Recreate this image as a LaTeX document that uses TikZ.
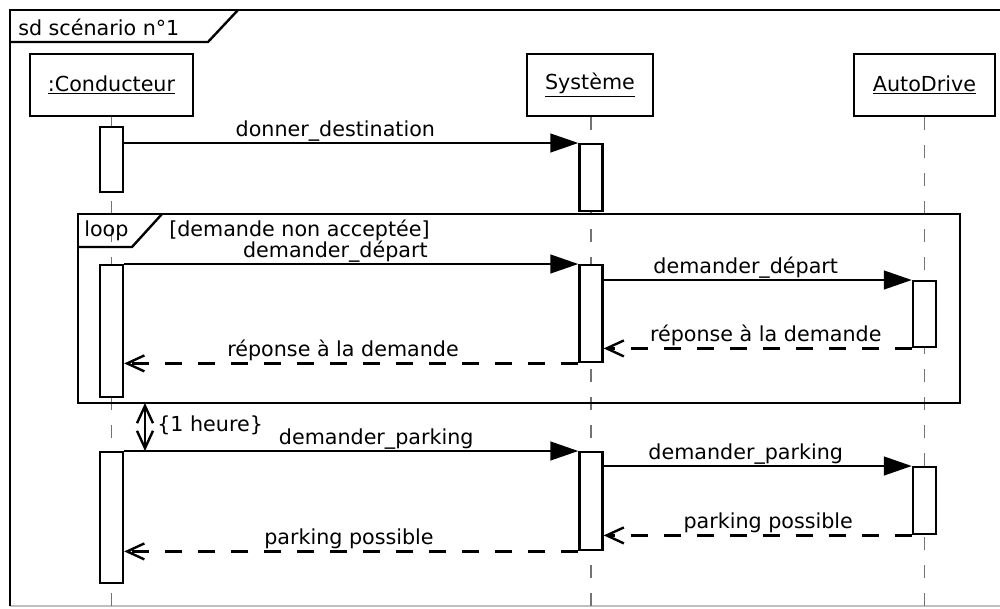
\documentclass[tikz,border=0pt]{standalone}
\usepackage{fontspec}
\setmainfont{DejaVu Sans}
\usetikzlibrary{arrows.meta}
\newcommand\umlfont{\fontsize{15.5pt}{18pt}\selectfont}
\tikzset{
  lifehead/.style={draw, line width=1.8pt, minimum height=46.5pt, inner sep=0pt, font=\umlfont},
  actbar/.style={draw, fill=white, line width=1.8pt, minimum width=17.25pt, inner sep=0pt, anchor=north},
  lifeline/.style={black!55, line width=1.4pt, dash pattern=on 9.75pt off 11.25pt},
  call/.style={line width=1.8pt, -{Triangle[length=21pt,width=14pt]}},
  reply/.style={line width=1.8pt, dash pattern=on 12.75pt off 12pt, -{Straight Barb[length=13pt,width=12pt]}},
  msglabel/.style={anchor=base, yshift=5.25pt, inner sep=0pt, font=\umlfont},
  frameline/.style={line width=1.8pt},
  framelabel/.style={anchor=west, inner sep=0pt, font=\umlfont},
}
\begin{document}
\begin{tikzpicture}[x=0.75pt,y=-0.75pt]
\useasboundingbox (0,0) rectangle (1000,608);
\def\xC{111.5};
\def\xS{591};
\def\xA{924.5};
\coordinate (bottom) at (0,606);
\draw[black!25, line width=1pt] (10,606) -- (1000,606);
\draw[frameline] (10,606) -- (10,10) -- (1004,10);
\draw[frameline] (10,42) -- (208,42) -- (238,10);
\node[framelabel] (sdname) at (18,27) {sd scénario n°1};
\node[lifehead, minimum width=122.25pt] (Cond) at (\xC,85) {\underline{:Conducteur}};
\node[lifehead, minimum width=94.5pt] (Sys) at (590,85) {\underline{Système}};
\node[lifehead, minimum width=105.75pt] (Auto) at (\xA,85) {\underline{AutoDrive}};
\draw[lifeline] (Cond.south) -- (Cond.south |- bottom);
\draw[lifeline] (Sys.south -| \xS,0) -- (\xS,606);
\draw[lifeline] (Auto.south) -- (Auto.south |- bottom);
\draw[frameline] (78,214) rectangle (960,403);
\draw[frameline] (78,247) -- (132,247) -- (162,214);
\node[framelabel] (loopname) at (84,231) {loop};
\node[framelabel] (guard) at (169,230) {[demande non acceptée]};
\node[actbar, minimum height=48.75pt] (C1) at (\xC,126) {};
\node[actbar, minimum height=50.25pt] (S1) at (\xS,143) {};
\node[actbar, minimum height=99pt] (C2) at (\xC,264) {};
\node[actbar, minimum height=72.75pt] (S2) at (\xS,264) {};
\node[actbar, minimum height=49.5pt] (A1) at (\xA,280) {};
\node[actbar, minimum height=98.25pt] (C3) at (\xC,451) {};
\node[actbar, minimum height=73.5pt] (S3) at (\xS,451) {};
\node[actbar, minimum height=50.25pt] (A2) at (\xA,466) {};
\draw[call] (C1.east |- S1.north west) -- (S1.north west) node[msglabel, pos=.465] (m1) {donner\_destination};
\draw[call] (C2.north east) -- (S2.north west) node[msglabel, pos=.465] (m2) {demander\_départ};
\draw[call] (S2.east |- A1.north west) -- (A1.north west) node[msglabel, pos=.461] (m3) {demander\_départ};
\draw[reply] (A1.south west) -- (S2.east |- A1.south west) node[msglabel, pos=.474] (m4) {réponse à la demande};
\draw[reply] (S2.south west) -- (C2.east |- S2.south west) node[msglabel, pos=.518] (m5) {réponse à la demande};
\draw[call] (C3.north east) -- (S3.north west) node[msglabel, pos=.555] (m6) {demander\_parking};
\draw[call] (S3.east |- A2.north west) -- (A2.north west) node[msglabel, pos=.461] (m7) {demander\_parking};
\draw[reply] (A2.south west) -- (S3.east |- A2.south west) node[msglabel, pos=.466] (m8) {parking possible};
\draw[reply] (S3.south west) -- (C3.east |- S3.south west) node[msglabel, pos=.505] (m9) {parking possible};
\coordinate (d1) at (145,403);
\coordinate (d2) at (145,451);
\draw[line width=1.8pt, {Straight Barb[length=13pt,width=12pt]}-{Straight Barb[length=13pt,width=12pt]}] (d1) -- (d2);
\node[framelabel] (dur) at (157,425) {\{1 heure\}};
\end{tikzpicture}
\end{document}
